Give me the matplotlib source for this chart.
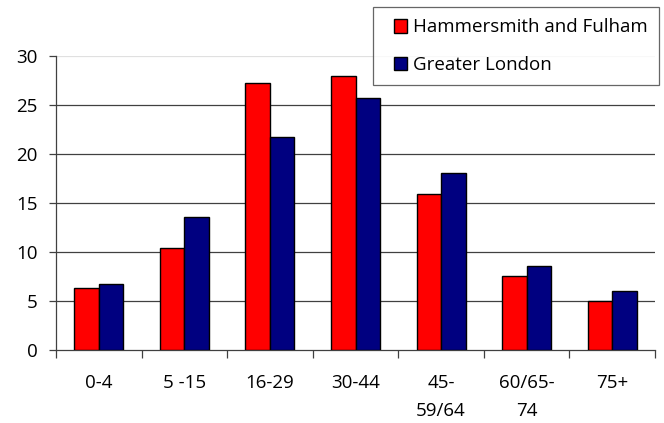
import numpy as np
import matplotlib.pyplot as plt
from matplotlib.patches import Patch, Rectangle
from matplotlib.legend_handler import HandlerPatch

plt.rcParams['font.family'] = ['Open Sans', 'DejaVu Sans']

groups = ['0-4', '5 -15', '16-29', '30-44', '45-\n59/64', '60/65-\n74', '75+']
hammersmith = [6.3, 10.4, 27.2, 28.0, 15.9, 7.5, 5.0]
london = [6.7, 13.6, 21.7, 25.7, 18.1, 8.6, 6.0]

x = np.arange(len(groups))
w = 0.286

fig = plt.figure(figsize=(6.64, 4.23), dpi=100)
ax = fig.add_axes([0.0843, 0.1726, 0.9022, 0.695])

# gridlines
for v in [5, 10, 15, 20, 25]:
    ax.axhline(v, color='#404040', lw=0.9, zorder=1)
ax.axhline(30, color='#e0e0e0', lw=0.9, zorder=1)

ax.bar(x - w / 2, hammersmith, w, color='#ff0000', edgecolor='black', lw=1.0, zorder=3)
ax.bar(x + w / 2, london, w, color='#000080', edgecolor='black', lw=1.0, zorder=3)

ax.set_xlim(-0.5, len(groups) - 0.5)
ax.set_ylim(0, 30)
ax.set_yticks([0, 5, 10, 15, 20, 25, 30])
ax.tick_params(axis='y', length=5, width=0.9, color='#404040', pad=8, labelsize=13.5)

ax.set_xticks(np.arange(-0.5, len(groups), 1.0))
ax.set_xticklabels([])
ax.tick_params(axis='x', which='major', length=6, width=0.9, color='#404040')
ax.set_xticks(x, minor=True)
ax.set_xticklabels(groups, minor=True, linespacing=1.75)
ax.tick_params(axis='x', which='minor', length=0, pad=17, labelsize=13.5)

for s in ['top', 'right']:
    ax.spines[s].set_visible(False)
for s in ['left', 'bottom']:
    ax.spines[s].set_color('#404040')
    ax.spines[s].set_linewidth(0.9)


# square legend marker pushed to the right of its handle box
def square(legend, orig_handle, xdescent, ydescent, width, height, fontsize):
    return Rectangle((-xdescent + width - height, -ydescent), height, height)


handles = [Patch(facecolor='#ff0000', edgecolor='black', lw=1.0),
           Patch(facecolor='#000080', edgecolor='black', lw=1.0)]
leg = fig.legend(handles, ['Hammersmith and Fulham', 'Greater London'],
                 loc='upper left', bbox_to_anchor=(373 / 664, 1 - 7 / 423),
                 frameon=True, fancybox=False, edgecolor='#404040',
                 fontsize=13.5, handlelength=1.23, handleheight=0.75,
                 handletextpad=0.32, labelspacing=1.05, borderpad=0.6,
                 borderaxespad=0,
                 handler_map={Patch: HandlerPatch(patch_func=square)})
leg.get_frame().set_linewidth(0.9)
leg.set_zorder(5)

plt.savefig('out.png')
